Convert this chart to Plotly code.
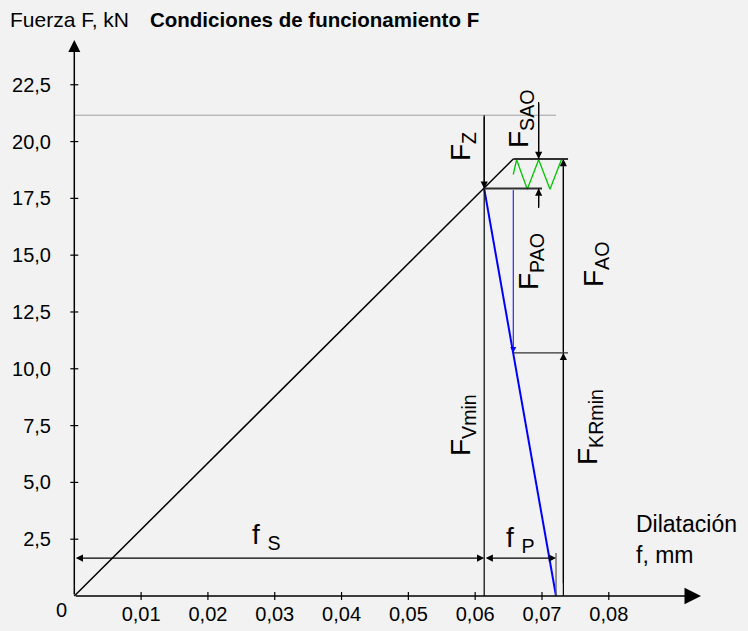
import plotly.graph_objects as go

# ---------------- data ----------------
x_ticks = [0.01, 0.02, 0.03, 0.04, 0.05, 0.06, 0.07, 0.08]
x_tick_labels = ["0,01", "0,02", "0,03", "0,04", "0,05", "0,06", "0,07", "0,08"]
y_ticks = [2.5, 5.0, 7.5, 10.0, 12.5, 15.0, 17.5, 20.0, 22.5]
y_tick_labels = ["2,5", "5,0", "7,5", "10,0", "12,5", "15,0", "17,5", "20,0", "22,5"]

f_S = 0.06135          # bolt elongation at preload
f_end = 0.0721         # end of plate line (f_S + f_P)
F_V = 17.93            # preload F_Vmin
F_top = 19.23          # F_V + F_SAO
F_max = 21.16          # gray level line
F_KR = 10.70           # residual clamp force F_KRmin
x_load = 0.0657        # working point elongation
x_SAO = 0.0695
x_KR = 0.0732
top_line_end = 0.0739
low_line_end = 0.0700
F_SAO_top = 21.74
F_SAO_bot = 17.08
f_level = 1.67
f_tick_top = 1.89
x_axis_end = 0.0938
y_axis_end = 24.47

bolt_x = [0, x_load]
bolt_F = [0, F_top]
plate_x = [f_S, f_end]
plate_F = [F_V, 0]
zig_x = [0.0657, 0.0662, 0.0678, 0.0695, 0.0712, 0.0729]
zig_F = [18.55, 19.2, 17.9, 19.2, 17.9, 19.2]

# ---------------- geometry ----------------
W, H = 748, 631
L, R, T, B = 70, 47, 40, 31
x0_px = 74.3                 # pixel of x = 0
y0_px = 596                  # pixel of F = 0
x_rng = [-(x0_px - L) / 6684.0, x_axis_end]
y_rng = [-((H - B) - y0_px) / 22.72, y_axis_end]
pxu = (W - L - R) / (x_rng[1] - x_rng[0])
pyu = (H - T - B) / (y_rng[1] - y_rng[0])

def px_paper(px):
    return (px - L) / (W - L - R)

def py_paper(py):
    return (H - B - py) / (H - T - B)

fig = go.Figure()

fig.add_trace(go.Scatter(x=bolt_x, y=bolt_F, mode="lines",
                         line=dict(color="black", width=1.5), hoverinfo="skip"))
fig.add_trace(go.Scatter(x=plate_x, y=plate_F, mode="lines",
                         line=dict(color="#0000ff", width=2), hoverinfo="skip"))
fig.add_trace(go.Scatter(x=zig_x, y=zig_F, mode="lines",
                         line=dict(color="#00c800", width=1.3), hoverinfo="skip"))

shapes = []
def line(x0, y0, x1, y1, color="black", width=1.2):
    shapes.append(dict(type="line", xref="x", yref="y", x0=x0, y0=y0, x1=x1, y1=y1,
                       line=dict(color=color, width=width)))

# helper lines
line(0, F_max, f_end, F_max, color="#a0a0a0", width=1)
line(f_S, 0, f_S, F_max)
line(x_KR, 0, x_KR, F_top)
line(f_S, F_V, low_line_end, F_V, color="#303030", width=2)
line(x_load, F_top, top_line_end, F_top, color="#303030", width=2)
line(x_load, F_KR, top_line_end, F_KR, color="#303030", width=1.3)
line(f_end, 0, f_end, f_tick_top, color="#606060", width=1.3)
line(x_SAO, F_SAO_top, x_SAO, F_top)
line(x_SAO, F_SAO_bot, x_SAO, F_V)

# axis tick crosses
tk = 4
for v in x_ticks:
    shapes.append(dict(type="line", xref="x", yref="y", x0=v, x1=v,
                       y0=-tk / pyu, y1=tk / pyu, line=dict(color="black", width=1.2)))
for v in y_ticks:
    shapes.append(dict(type="line", xref="x", yref="y", y0=v, y1=v,
                       x0=-tk / pxu, x1=tk / pxu, line=dict(color="black", width=1.2)))

ann = []
def arrow(x, y, ax, ay, color="black", width=1.2, size=1.2, head=2, side="end"):
    ann.append(dict(x=x, y=y, ax=ax, ay=ay, xref="x", yref="y", axref="x", ayref="y",
                    showarrow=True, arrowhead=head, arrowsize=size, arrowwidth=width,
                    arrowcolor=color, arrowside=side, text=""))

# axes with arrows
arrow(0, y_axis_end, 0, 0, width=1.5, size=1.6)
arrow(x_axis_end, 0, 0, 0, width=1.5, size=2.2)

# dimension arrows
arrow(f_S, F_V, f_S, F_max)                  # F_Z
arrow(x_SAO, F_top, x_SAO, F_SAO_top)         # F_SAO upper
arrow(x_SAO, F_V, x_SAO, F_SAO_bot)           # F_SAO lower
arrow(x_load, F_KR, x_load, F_V, color="#0000ff", width=1)  # F_PAO
arrow(x_KR, F_top, x_KR, F_KR)                # F_AO
arrow(x_KR, F_KR, x_KR, 0.5)                  # F_KRmin
arrow(f_S, f_level, 0, f_level, side="end+start")      # f_S
arrow(f_end, f_level, f_S, f_level, side="end+start")  # f_P

font = "Arial, Liberation Sans, sans-serif"

def label(px, py, text, size=28, angle=-90, xanchor="center", yanchor="middle"):
    ann.append(dict(x=px_paper(px), y=py_paper(py), xref="paper", yref="paper",
                    text=text, showarrow=False,
                    textangle=angle, xanchor=xanchor, yanchor=yanchor,
                    font=dict(family=font, size=size, color="black")))

label(462, 147, "F<sub>Z</sub>")
label(520, 119, "F<sub>SAO</sub>")
label(530, 262, "F<sub>PAO</sub>")
label(595, 265, "F<sub>AO</sub>")
label(462, 425, "F<sub>Vmin</sub>")
label(589, 427, "F<sub>KRmin</sub>")
label(266, 536, "f <sub>S</sub>", angle=0)
label(520, 539, "f <sub>P</sub>", angle=0)
label(634, 524, "Dilatación", size=23, angle=0, xanchor="left")
label(634, 555, "f, mm", size=23, angle=0, xanchor="left")
label(61, 610, "0", size=20, angle=0)
label(8, 20, "Fuerza F, kN", size=21, angle=0, xanchor="left")
label(148, 20, "<b>Condiciones de funcionamiento F</b>", size=20.5, angle=0, xanchor="left")

fig.update_layout(
    width=W, height=H,
    margin=dict(l=L, r=R, t=T, b=B, pad=0, autoexpand=False),
    paper_bgcolor="#f2f2f2", plot_bgcolor="#f2f2f2",
    showlegend=False,
    shapes=shapes, annotations=ann,
    font=dict(family=font, size=20, color="black"),
    xaxis=dict(range=x_rng, showgrid=False, zeroline=False, showline=False,
               automargin=False,
               tickvals=x_ticks, ticktext=x_tick_labels, ticks="",
               tickfont=dict(family=font, size=20, color="black"), fixedrange=True),
    yaxis=dict(range=y_rng, showgrid=False, zeroline=False, showline=False,
               automargin=False,
               tickvals=y_ticks, ticktext=y_tick_labels, ticks="outside",
               ticklen=14, tickcolor="rgba(0,0,0,0)",
               tickfont=dict(family=font, size=20, color="black"), fixedrange=True),
)

fig.write_html("out.html",
               config={"displayModeBar": False, "staticPlot": True},
               post_script="document.body.style.margin='0';"
                           "document.body.style.background='#f2f2f2';"
                           "document.body.style.overflow='hidden';")
